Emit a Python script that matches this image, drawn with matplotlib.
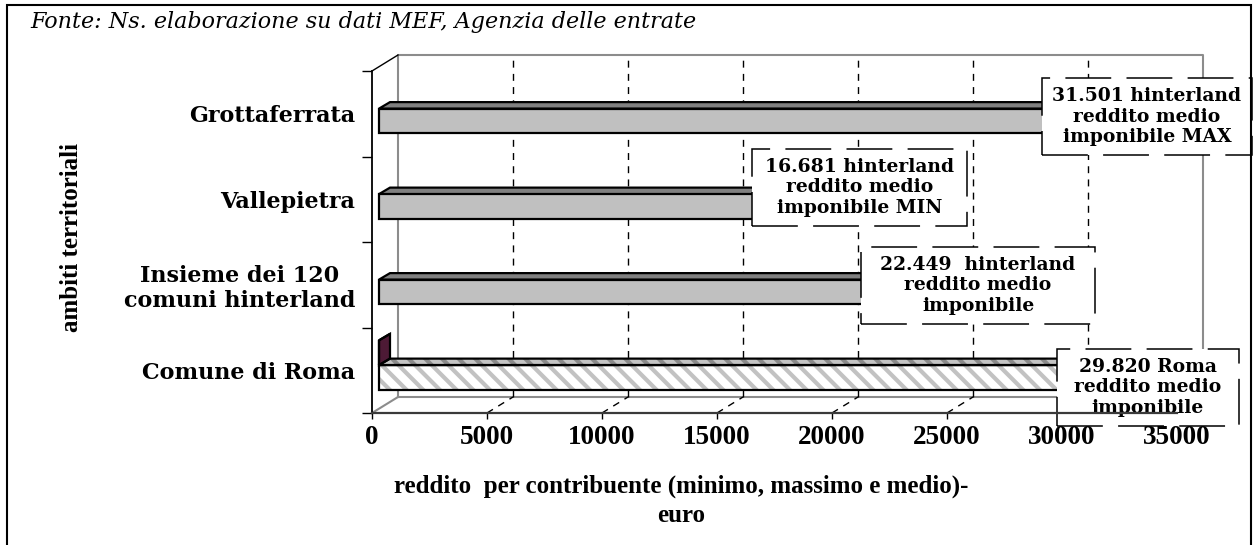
import matplotlib
matplotlib.use("Agg")
import matplotlib.pyplot as plt
from matplotlib.patches import Polygon, Rectangle

# ---------------- data ----------------
categories = ["Comune di Roma", "Insieme dei 120\ncomuni hinterland", "Vallepietra", "Grottaferrata"]
values_main = [29820, 22449, 16681, 31501]          # reddito medio imponibile
values_second = [0, None, None, None]               # second series (Roma only, ~0)
box_texts = [
    "29.820 Roma\nreddito medio\nimponibile",
    "22.449  hinterland\nreddito medio\nimponibile",
    "16.681 hinterland\nreddito medio\nimponibile MIN",
    "31.501 hinterland\nreddito medio\nimponibile MAX",
]
xticks = [0, 5000, 10000, 15000, 20000, 25000, 30000, 35000]
x_max = 35000
source_text = "Fonte: Ns. elaborazione su dati MEF, Agenzia delle entrate"
x_title = "reddito  per contribuente (minimo, massimo e medio)-\neuro"
y_title = "ambiti territoriali"

# ---------------- layout (pixels) ----------------
W, H = 1253, 545
AX_L, AX_R, AX_T, AX_B = 372, 1177, 71, 413
WALL_DX, WALL_DY = 26, 16        # depth of back wall (px)
BAR_X0 = 7                       # bar depth start (px)
BAR_DX, BAR_DY = 11, 6.5         # bar depth (px)
S1_BOTTOM, S_HEIGHT = 0.27, 0.29 # in category units
# label box offsets from bar end (px, +down) and sizes (px)
box_offsets = [(90, 17.25), (89.7, 0.75), (103.8, -11.75), (50.5, 2.75)]
box_sizes = [(182, 77), (234, 77), (215, 77), (210, 77)]

SERIF = "Liberation Serif"
WIDE = "DejaVu Serif"

plt.rcParams["hatch.linewidth"] = 3.0

fig = plt.figure(figsize=(W / 100, H / 100), dpi=100)
ax = fig.add_axes([AX_L / W, 1 - AX_B / H, (AX_R - AX_L) / W, (AX_B - AX_T) / H])
n = len(categories)
ax.set_xlim(0, x_max)
ax.set_ylim(0, n)
ax.patch.set_visible(False)

px = x_max / (AX_R - AX_L)
py = n / (AX_B - AX_T)
wdx, wdy = WALL_DX * px, WALL_DY * py

wall_c = "#8c8c8c"
# back wall
ax.plot([wdx, wdx, x_max + wdx, x_max + wdx, wdx],
        [wdy, n + wdy, n + wdy, wdy, wdy], color=wall_c, lw=1.5, clip_on=False, zorder=0.4)
ax.plot([0, wdx], [n, n + wdy], color="black", lw=1, clip_on=False, zorder=0.4)
ax.plot([0, wdx], [0, wdy], color=wall_c, lw=1.5, clip_on=False, zorder=0.4)
# gridlines on back wall and floor
for t in xticks[1:-1]:
    ax.plot([t + wdx, t + wdx], [wdy, n + wdy], color="black", lw=1,
            ls=(0, (5, 4.5)), clip_on=False, zorder=0.5)
for t in xticks[1:]:
    ax.plot([t, t + wdx], [0, wdy], color="black", lw=1,
            ls=(0, (5, 4.5)), clip_on=False, zorder=0.5)

bx0 = BAR_X0 * px
bdx, bdy = BAR_DX * px, BAR_DY * py


def bar3d(x1, y0, y1, front_fc, top_fc, end_fc, hatch=None, hatch_c=None, top_hatch_c=None):
    x0 = bx0
    front = [(x0, y0), (x1, y0), (x1, y1), (x0, y1)]
    top = [(x0, y1), (x1, y1), (x1 + bdx, y1 + bdy), (x0 + bdx, y1 + bdy)]
    end = [(x1, y0), (x1, y1), (x1 + bdx, y1 + bdy), (x1 + bdx, y0 + bdy)]
    for poly, fc, hc in ((end, end_fc, None), (top, top_fc, top_hatch_c), (front, front_fc, hatch_c)):
        if hatch is not None and hc is not None:
            ax.add_patch(Polygon(poly, closed=True, facecolor=fc, edgecolor=hc, lw=0,
                                 hatch=hatch, zorder=1, clip_on=False))
            ax.add_patch(Polygon(poly, closed=True, fill=False, edgecolor="black",
                                 lw=1.6, zorder=1.1, clip_on=False))
        else:
            ax.add_patch(Polygon(poly, closed=True, facecolor=fc, edgecolor="black",
                                 lw=1.6, zorder=1, clip_on=False, joinstyle="miter"))


for i, v in enumerate(values_main):
    y0 = i + S1_BOTTOM
    y1 = y0 + S_HEIGHT
    if i == 0:
        bar3d(v + bx0, y0, y1, "white", "#c4c4c4", "#c4c4c4", hatch="\\\\",
              hatch_c="#c2c2c2", top_hatch_c="#8a8a8a")
    else:
        bar3d(v + bx0, y0, y1, "#c0c0c0", "#808080", "#a0a0a0")
    v2 = values_second[i]
    if v2 is not None:
        bar3d(v2 + bx0, y1, y1 + S_HEIGHT, "#4d1a35", "#4d1a35", "#4d1a35")

# label boxes
for i, (v, txt) in enumerate(zip(values_main, box_texts)):
    ox, oy = box_offsets[i]
    bw, bh = box_sizes[i]
    cx = v + ox * px
    cy = i + 0.5 - oy * py
    ax.add_patch(Rectangle((cx - bw / 2 * px, cy - bh / 2 * py), bw * px, bh * py,
                           facecolor="white", edgecolor="black", lw=1.1,
                           ls=(0, (30, 10)), zorder=2, clip_on=False))
    ax.text(cx, cy, txt, ha="center", va="center", multialignment="center",
            fontsize=13.5, fontweight="bold", family=WIDE, linespacing=1.15,
            zorder=2.1, clip_on=False)

# axes / ticks
for s in ("top", "right"):
    ax.spines[s].set_visible(False)
ax.spines["left"].set_color("black")
ax.spines["left"].set_linewidth(1.3)
ax.spines["bottom"].set_color("#3a3a3a")
ax.spines["bottom"].set_linewidth(1.6)
for s in ax.spines.values():
    s.set_zorder(3)

ax.set_xticks(xticks)
ax.set_xticklabels([str(t) for t in xticks], fontsize=19.5, fontweight="bold", family=SERIF)
ax.tick_params(axis="x", direction="out", length=4.5, width=1, pad=4, color="black")

ax.set_yticks(range(n + 1))
ax.set_yticklabels([])
ax.set_yticks([i + 0.5 for i in range(n)], minor=True)
ax.set_yticklabels(categories, minor=True, fontsize=16, fontweight="bold", family=WIDE,
                   linespacing=1.15)
for lbl in ax.get_yticklabels(minor=True):
    lbl.set_multialignment("center")
ax.tick_params(axis="y", which="major", direction="out", length=7.2, width=1, color="black")
ax.tick_params(axis="y", which="minor", length=0, pad=12)

# titles
fig.text(681 / W, 1 - 501 / H, x_title, ha="center", va="center", multialignment="center",
         fontsize=18, fontweight="bold", family=SERIF, linespacing=1.35)
fig.text(72 / W, 1 - 238 / H, y_title, ha="center", va="center", rotation=90,
         fontsize=18, fontweight="bold", family=SERIF)
fig.text(30 / W, 1 - 28 / H, source_text, ha="left", va="baseline",
         fontsize=16, style="italic", family=WIDE)

# outer border
fig.add_artist(Rectangle((7 / W, -0.05), (1251 - 7) / W, 1 - 5 / H + 0.05,
                         transform=fig.transFigure, fill=False, ec="black", lw=1.5))

fig.savefig("out.png", dpi=100)
